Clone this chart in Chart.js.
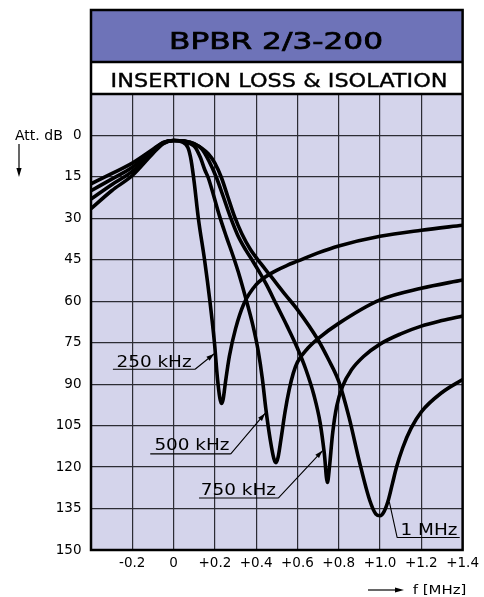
<!DOCTYPE html>
<html>
<head>
<meta charset="utf-8">
<title>BPBR 2/3-200</title>
<script src="https://cdn.jsdelivr.net/npm/chart.js@4.4.1/dist/chart.umd.min.js"></script>
<style>
    html, body { margin: 0; padding: 0; background: #fff; }
    canvas { display: block; }
</style>
</head>
<body>
<canvas id="attChart" width="484" height="597"></canvas>
<script>
const TITLE = "BPBR 2/3-200";
const SUBTITLE = "INSERTION LOSS & ISOLATION";
const Y_NAME = "Att. dB";
const X_NAME = "f [MHz]";

const xTickLabels = ["", "-0.2", "0", "+0.2", "+0.4", "+0.6", "+0.8", "+1.0", "+1.2", "+1.4"];
const yTickLabels = ["", "0", "15", "30", "45", "60", "75", "90", "105", "120", "135", "150"];

const seriesNames = ["250 kHz", "500 kHz", "750 kHz", "1 MHz"];

// frequency offset (MHz) / attenuation (dB)
const f250 = [-0.4, -0.3, -0.2, -0.1, -0.05, 0, 0.04, 0.07, 0.085, 0.1, 0.12, 0.15, 0.176, 0.198, 0.212, 0.224, 0.232, 0.24, 0.25, 0.27, 0.3, 0.34, 0.4, 0.47, 0.55, 0.6, 0.7, 0.8, 1.0, 1.2, 1.4];
const a250 = [26.5, 20, 14.5, 6.5, 3, 1.8, 2.3, 4.5, 9, 17, 30, 45, 60, 75, 87.5, 95, 97, 95.5, 90, 80, 70, 61, 54, 50, 47, 45.5, 42.5, 40, 36.5, 34.3, 32.5];

const f500 = [-0.4, -0.3, -0.2, -0.1, -0.05, 0, 0.05, 0.08, 0.104, 0.13, 0.152, 0.168, 0.195, 0.222, 0.255, 0.29, 0.32, 0.35, 0.385, 0.41, 0.43, 0.447, 0.468, 0.486, 0.496, 0.506, 0.52, 0.54, 0.56, 0.58, 0.6, 0.65, 0.7, 0.8, 1.0, 1.2, 1.4];
const a500 = [23, 17.8, 13, 6, 2.8, 1.8, 2.0, 3, 4.2, 8, 12.6, 15.3, 22, 29, 36.5, 44, 51, 59, 69, 78, 88, 99, 110, 117, 118.4, 116.5, 110, 100, 92, 86, 82, 77, 73.5, 68, 59.5, 55.3, 52.3];

const f750 = [-0.4, -0.3, -0.2, -0.1, -0.05, 0, 0.05, 0.1, 0.136, 0.17, 0.208, 0.24, 0.275, 0.31, 0.35, 0.384, 0.42, 0.45, 0.5, 0.55, 0.6, 0.64, 0.68, 0.71, 0.73, 0.745, 0.755, 0.77, 0.79, 0.82, 0.86, 0.92, 1.0, 1.1, 1.2, 1.3, 1.4];
const a750 = [20, 15.8, 11.5, 5.5, 2.6, 1.8, 2.0, 3.0, 4.8, 9, 15.3, 22, 29.5, 36, 41.5, 45.5, 50, 54, 61.5, 69, 77, 84.5, 94, 104, 115, 125.6, 120, 108, 98, 90.5, 85, 80, 75.5, 71.8, 69, 67, 65.3];

const f1000 = [-0.4, -0.3, -0.2, -0.1, -0.05, 0, 0.05, 0.1, 0.168, 0.2, 0.232, 0.262, 0.296, 0.33, 0.37, 0.424, 0.472, 0.54, 0.6, 0.7, 0.75, 0.8, 0.85, 0.9, 0.95, 0.98, 1.0, 1.02, 1.04, 1.06, 1.08, 1.11, 1.15, 1.2, 1.3, 1.4];
const a1000 = [17.5, 13.8, 10, 5, 2.5, 1.8, 2, 3, 6.6, 10, 15.3, 22, 29.5, 35.5, 41, 46.5, 51, 57.5, 63, 74, 81, 89, 102, 118, 132, 137, 137.6, 136, 132, 126, 120, 113, 106, 100, 93, 88.3];

// callout placement, in axis units
const callouts = [
    { text: "250 kHz", tx: -0.2765, ty: 83.7, uy: 84.6, u0: -0.294, u1: 0.104, lx: 0.104, tipX: 0.197, tipY: 79, arrow: true },
    { text: "500 kHz", tx: -0.093, ty: 113.8, uy: 115.2, u0: -0.113, u1: 0.277, lx: 0.277, tipX: 0.444, tipY: 100.5, arrow: true },
    { text: "750 kHz", tx: 0.132, ty: 130.1, uy: 131.2, u0: 0.123, u1: 0.507, lx: 0.507, tipX: 0.722, tipY: 114, arrow: true },
    { text: "1 MHz", tx: 1.099, ty: 144.6, uy: 145.5, u0: 1.083, u1: 1.386, lx: 1.083, tipX: 1.045, tipY: 132.6, arrow: false }
];

const FONT = "'DejaVu Sans', 'Liberation Sans', sans-serif";
const HEAD_BG = "#6e73b8";
const PLOT_BG = "#d4d4eb";
const GRID = "#2c2c34";
const HEAD_TOP = 10;
const HEAD_MID = 62;

const curves = [[f250, a250], [f500, a500], [f750, a750], [f1000, a1000]];

function toPoints(fs, as) {
    return fs.map((f, i) => ({ x: f, y: as[i] }));
}

function stretchText(ctx, text, x, y, sx, align, weight) {
    ctx.save();
    ctx.translate(x, y);
    ctx.scale(sx, 1);
    ctx.textAlign = align || "left";
    ctx.textBaseline = "alphabetic";
    ctx.fillText(text, 0, 0);
    if (weight) {
        ctx.lineWidth = weight;
        ctx.strokeStyle = ctx.fillStyle;
        ctx.strokeText(text, 0, 0);
    }
    ctx.restore();
}

function fitText(ctx, text, cx, y, width, weight) {
    const w = ctx.measureText(text).width;
    stretchText(ctx, text, cx, y, width / w, "center", weight);
}

function arrowHead(ctx, x0, y0, x1, y1, len, half) {
    const ang = Math.atan2(y1 - y0, x1 - x0);
    ctx.beginPath();
    ctx.moveTo(x1, y1);
    ctx.lineTo(x1 - len * Math.cos(ang) + half * Math.sin(ang), y1 - len * Math.sin(ang) - half * Math.cos(ang));
    ctx.lineTo(x1 - len * Math.cos(ang) - half * Math.sin(ang), y1 - len * Math.sin(ang) + half * Math.cos(ang));
    ctx.closePath();
    ctx.fill();
}

const decorPlugin = {
    id: "decor",
    beforeDraw(chart) {
        const { ctx, chartArea: a } = chart;
        ctx.save();
        ctx.fillStyle = PLOT_BG;
        ctx.fillRect(a.left, a.top, a.right - a.left, a.bottom - a.top);
        ctx.fillStyle = HEAD_BG;
        ctx.fillRect(a.left, HEAD_TOP, a.right - a.left, HEAD_MID - HEAD_TOP);
        ctx.fillStyle = "#fff";
        ctx.fillRect(a.left, HEAD_MID, a.right - a.left, a.top - HEAD_MID);
        ctx.restore();
    },
    afterDatasetsDraw(chart) {
        const { ctx, chartArea: a } = chart;
        const xs = chart.scales.x;
        const ys = chart.scales.y;
        ctx.save();

        // frame
        ctx.strokeStyle = "#000";
        ctx.lineWidth = 2.5;
        ctx.strokeRect(a.left, HEAD_TOP, a.right - a.left, a.bottom - HEAD_TOP);
        ctx.beginPath();
        ctx.moveTo(a.left, HEAD_MID);
        ctx.lineTo(a.right, HEAD_MID);
        ctx.moveTo(a.left, a.top);
        ctx.lineTo(a.right, a.top);
        ctx.stroke();

        // header texts
        ctx.fillStyle = "#000";
        const cx = (a.left + a.right) / 2;
        ctx.font = "23px " + FONT;
        fitText(ctx, TITLE, cx - 0.8, 49.3, 214, 0.7);
        ctx.font = "20.2px " + FONT;
        fitText(ctx, SUBTITLE, cx + 2.3, 87.3, 337, 0.4);

        // axis names
        ctx.font = "13.5px " + FONT;
        stretchText(ctx, Y_NAME, 15, 139.5, 1.04);
        ctx.lineWidth = 1.2;
        ctx.beginPath();
        ctx.moveTo(19, 144);
        ctx.lineTo(19, 170);
        ctx.stroke();
        arrowHead(ctx, 19, 144, 19, 177, 9, 2.6);

        ctx.font = "13px " + FONT;
        stretchText(ctx, X_NAME, 412.7, 594, 1.15);
        ctx.beginPath();
        ctx.moveTo(368, 590);
        ctx.lineTo(396, 590);
        ctx.stroke();
        arrowHead(ctx, 368, 590, 404, 590, 9, 2.6);

        // callouts
        ctx.font = "16px " + FONT;
        callouts.forEach(c => {
            stretchText(ctx, c.text, xs.getPixelForValue(c.tx), ys.getPixelForValue(c.ty), 1.15);
            const uy = ys.getPixelForValue(c.uy);
            const lx = xs.getPixelForValue(c.lx);
            const tx = xs.getPixelForValue(c.tipX);
            const ty = ys.getPixelForValue(c.tipY);
            ctx.lineWidth = 1.1;
            ctx.beginPath();
            ctx.moveTo(xs.getPixelForValue(c.u0), uy);
            ctx.lineTo(xs.getPixelForValue(c.u1), uy);
            ctx.moveTo(lx, uy);
            ctx.lineTo(tx, ty);
            ctx.stroke();
            if (c.arrow) {
                arrowHead(ctx, lx, uy, tx, ty, 8, 2.5);
            }
        });

        ctx.restore();
    }
};

Chart.defaults.font.family = FONT;
Chart.defaults.color = "#000";

new Chart(document.getElementById("attChart"), {
    type: "line",
    data: {
        datasets: seriesNames.map((name, i) => ({
            label: name,
            data: toPoints(curves[i][0], curves[i][1]),
            borderColor: "#000",
            borderWidth: 3.6,
            pointRadius: 0,
            cubicInterpolationMode: "monotone",
            fill: false,
            clip: 0
        }))
    },
    options: {
        responsive: false,
        animation: false,
        devicePixelRatio: 1,
        layout: { padding: { top: 94, right: 18, bottom: 0, left: 0 } },
        plugins: {
            legend: { display: false },
            tooltip: { enabled: false },
            title: { display: false }
        },
        scales: {
            x: {
                type: "linear",
                min: -0.4,
                max: 1.4,
                afterFit: s => { s.height = 47; },
                ticks: {
                    stepSize: 0.2,
                    autoSkip: false,
                    maxRotation: 0,
                    padding: 5,
                    font: { size: 13.5 },
                    callback: v => xTickLabels[Math.round((v + 0.4) / 0.2)] || ""
                },
                grid: { color: GRID, lineWidth: 1.2, drawTicks: false },
                border: { display: false }
            },
            y: {
                type: "linear",
                reverse: true,
                min: -15,
                max: 150,
                afterFit: s => { s.width = 91; },
                ticks: {
                    stepSize: 15,
                    autoSkip: false,
                    padding: 9.5,
                    font: { size: 13.5 },
                    callback: v => yTickLabels[Math.round((v + 15) / 15)] || ""
                },
                grid: { color: GRID, lineWidth: 1.2, drawTicks: false },
                border: { display: false }
            }
        }
    },
    plugins: [decorPlugin]
});
</script>
</body>
</html>
